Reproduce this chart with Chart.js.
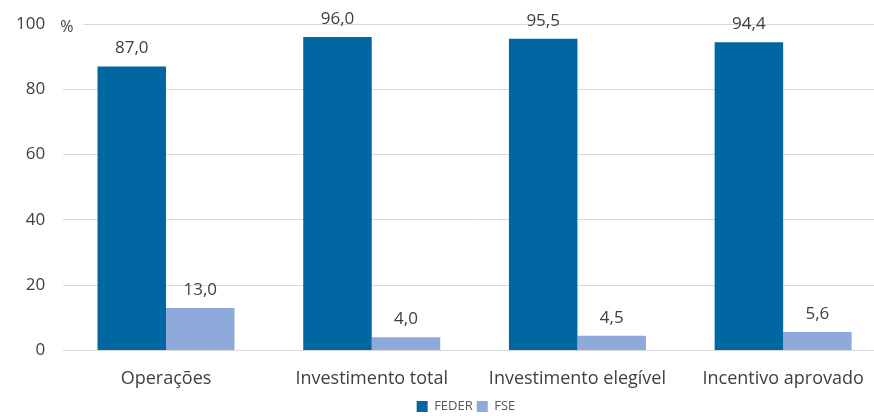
<!DOCTYPE html>
<html>
<head>
<meta charset="utf-8">
<script src="https://cdn.jsdelivr.net/npm/chart.js@4.4.0/dist/chart.umd.min.js"></script>
<style>
  html, body { margin: 0; padding: 0; background: #fff; overflow: hidden; }
  #wrap { width: 890px; height: 416px; }
</style>
</head>
<body>
<div id="wrap"><canvas id="myChart"></canvas></div>
<script>
const categories = ["Operações", "Investimento total", "Investimento elegível", "Incentivo aprovado"];
const feder = [87.0, 96.0, 95.5, 94.4];
const fse = [13.0, 4.0, 4.5, 5.6];
const yTicks = [0, 20, 40, 60, 80, 100];

const textColor = "#404040";
const font = "'Open Sans'";

// value labels above bars (comma decimals) and the "%" unit
const valueLabels = {
  id: "valueLabels",
  afterLayout(chart) {
    // the original legend sits centred on x=466, not on the canvas
    const lg = chart.legend;
    const w = lg.right - lg.left;
    lg.left = 466 - w / 2;
    lg.right = lg.left + w;
  },
  afterDatasetsDraw(chart) {
    const ctx = chart.ctx;
    const area = chart.chartArea;
    const y = chart.scales.y;
    ctx.save();
    ctx.font = "17px " + font;
    ctx.fillStyle = textColor;
    ctx.textAlign = "center";
    ctx.textBaseline = "alphabetic";
    chart.data.datasets.forEach((ds, i) => {
      chart.getDatasetMeta(i).data.forEach((bar, j) => {
        const txt = ds.data[j].toFixed(1).replace(".", ",");
        ctx.fillText(txt, bar.x, bar.y - 13);
      });
    });
    const y100 = y.getPixelForValue(100);
    ctx.fillStyle = "#fff";
    ctx.fillRect(area.left - 4, y100 - 2, 24, 4);
    ctx.fillStyle = textColor;
    ctx.textAlign = "left";
    ctx.textBaseline = "middle";
    ctx.font = "16px " + font;
    ctx.fillText("%", area.left - 3, y100 + 3);
    ctx.restore();
  },
};

const ctx = document.getElementById("myChart").getContext("2d");
new Chart(ctx, {
  type: "bar",
  data: {
    labels: categories,
    datasets: [
      { label: "FEDER", data: feder, backgroundColor: "#0067a3" },
      { label: "FSE", data: fse, backgroundColor: "#8eaadb" },
    ],
  },
  options: {
    responsive: true,
    maintainAspectRatio: false,
    animation: false,
    layout: { padding: { top: 24, right: 4, left: -2, bottom: -7 } },
    datasets: { bar: { barPercentage: 1, categoryPercentage: 0.666 } },
    plugins: {
      legend: {
        position: "bottom",
        labels: {
          boxWidth: 11,
          boxHeight: 11,
          padding: 4,
          color: "#595959",
          font: { family: font, size: 13 },
        },
      },
      tooltip: { enabled: false },
    },
    scales: {
      x: {
        grid: { display: false, drawTicks: false },
        border: { display: false },
        ticks: { color: textColor, padding: 18, font: { family: font, size: 18 } },
        afterFit: (axis) => { axis.height -= 12; },
      },
      y: {
        min: 0,
        max: 100,
        afterBuildTicks: (axis) => { axis.ticks = yTicks.map((v) => ({ value: v })); },
        afterFit: (axis) => { axis.paddingTop = 0; axis.paddingBottom = 0; },
        grid: { color: "#d9d9d9", drawTicks: false },
        border: { display: false },
        ticks: { color: textColor, padding: 18, font: { family: font, size: 17 } },
      },
    },
  },
  plugins: [valueLabels],
});
</script>
</body>
</html>
